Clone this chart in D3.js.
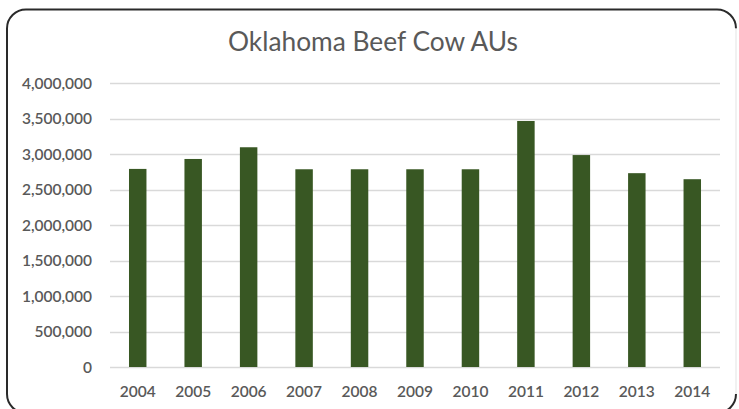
<!DOCTYPE html>
<html>
<head>
<meta charset="utf-8">
<script src="https://cdn.jsdelivr.net/npm/d3@7"></script>
<style>
  html, body { margin: 0; padding: 0; background: #ffffff; }
  svg { display: block; }
</style>
</head>
<body>
<svg id="chart" width="739" height="409"></svg>
<script>
// Oklahoma beef cow animal units by year
const years = ["2004", "2005", "2006", "2007", "2008", "2009", "2010", "2011", "2012", "2013", "2014"];
const beefCowAUs = [2790000, 2930000, 3095000, 2785000, 2785000, 2785000, 2785000, 3465000, 2985000, 2730000, 2645000];
const yTicks = [0, 500000, 1000000, 1500000, 2000000, 2500000, 3000000, 3500000, 4000000];
const chartTitle = "Oklahoma Beef Cow AUs";

const W = 739, H = 409;
const svg = d3.select("#chart");
const textColor = "#595959";
const fontFamily = "Lato, 'Open Sans', sans-serif";

// Rounded chart-area frame: dark outline, pale right edge
const fx0 = 7, fy0 = 9.5, fx1 = 736, fy1 = 413, r = 19;
svg.append("path")
  .attr("d", `M${fx1},${fy0 + r} A${r},${r} 0 0 0 ${fx1 - r},${fy0} L${fx0 + r},${fy0} A${r},${r} 0 0 0 ${fx0},${fy0 + r} L${fx0},${fy1 - r} A${r},${r} 0 0 0 ${fx0 + r},${fy1}`)
  .attr("fill", "none").attr("stroke", "#2a2a2a").attr("stroke-width", 2);
svg.append("line")
  .attr("x1", fx1).attr("x2", fx1).attr("y1", fy0 + r).attr("y2", fy1 - r)
  .attr("stroke", "#ececec").attr("stroke-width", 1.5);
svg.append("path")
  .attr("d", `M${fx1},${fy1 - r} A${r},${r} 0 0 1 ${fx1 - r},${fy1}`)
  .attr("fill", "none").attr("stroke", "#2a2a2a").attr("stroke-width", 2);

// Plot area
const plot = { left: 110, right: 720, top: 83, bottom: 367 };

const x = d3.scaleBand()
  .domain(years)
  .range([plot.left, plot.right])
  .paddingInner(0.685)
  .paddingOuter(0.3425);

const y = d3.scaleLinear()
  .domain([0, 4000000])
  .range([plot.bottom, plot.top]);

// Horizontal gridlines
svg.append("g")
  .selectAll("line")
  .data(yTicks)
  .join("line")
  .attr("x1", plot.left).attr("x2", plot.right)
  .attr("y1", d => Math.round(y(d)) + 0.5).attr("y2", d => Math.round(y(d)) + 0.5)
  .attr("stroke", "#d9d9d9").attr("stroke-width", 1.3);

// Bars
svg.append("g")
  .selectAll("rect")
  .data(years.map((yr, i) => ({ yr, v: beefCowAUs[i] })))
  .join("rect")
  .attr("x", d => x(d.yr))
  .attr("width", x.bandwidth())
  .attr("y", d => y(d.v))
  .attr("height", d => y(0) - y(d.v))
  .attr("fill", "#385723");

// Y axis labels
const yAxis = d3.axisLeft(y).tickValues(yTicks).tickFormat(d3.format(",")).tickSize(0).tickPadding(0);
const gy = svg.append("g").attr("transform", `translate(92,0)`).call(yAxis);
gy.select(".domain").remove();
gy.selectAll("text")
  .attr("fill", textColor)
  .attr("font-family", fontFamily)
  .attr("font-size", 15.5)
  .attr("font-weight", 600)
  .attr("dy", "0.35em");

// X axis labels
const xAxis = d3.axisBottom(x).tickSize(0).tickPadding(0);
const gx = svg.append("g").attr("transform", `translate(0,392)`).call(xAxis);
gx.select(".domain").remove();
gx.selectAll("text")
  .attr("fill", textColor)
  .attr("font-family", fontFamily)
  .attr("font-size", 15.5)
  .attr("font-weight", 600)
  .attr("dy", "0.35em");

// Title, set in a narrow fitted width
svg.append("text")
  .attr("x", 373).attr("y", 51)
  .attr("text-anchor", "middle")
  .attr("fill", textColor)
  .attr("font-family", fontFamily)
  .attr("font-size", 26)
  .attr("textLength", 290)
  .attr("lengthAdjust", "spacingAndGlyphs")
  .text(chartTitle);
</script>
</body>
</html>
